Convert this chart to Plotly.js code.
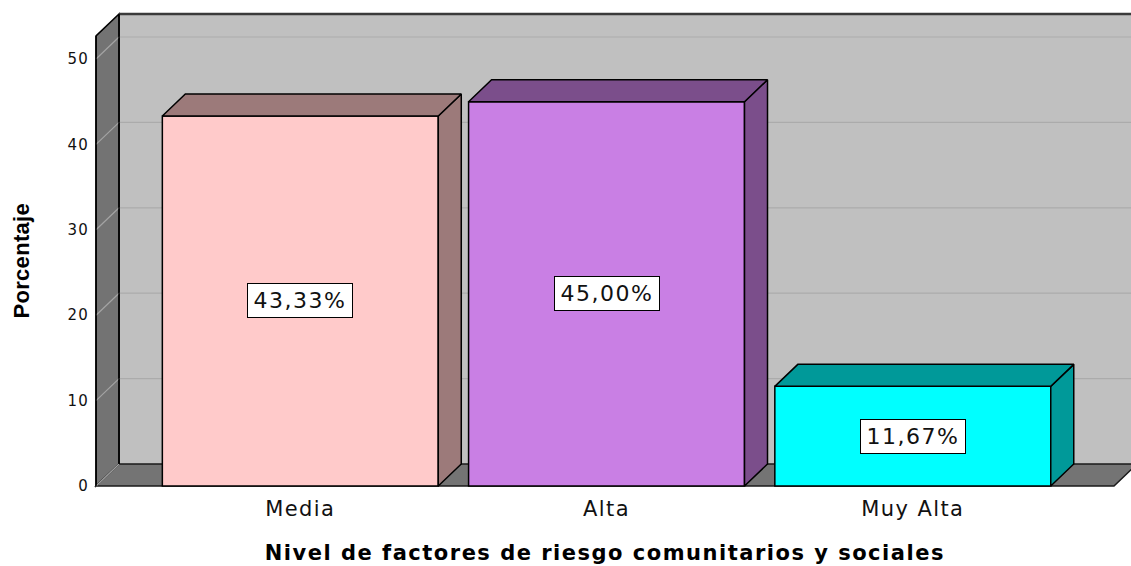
<!DOCTYPE html>
<html>
<head>
<meta charset="utf-8">
<script src="https://cdn.plot.ly/plotly-3.0.1.min.js"></script>
<style>
html,body{margin:0;padding:0;background:#fff;}
#chart{width:1131px;height:566px;}
#chart g.xtick text{letter-spacing:1.4px;}
#chart g.ytick text{letter-spacing:1.2px;}
#chart g.annotation text{letter-spacing:1.5px;}
#chart g.annotation[data-index="3"] text{letter-spacing:1.5px;}
#chart g.annotation[data-index="4"] text{letter-spacing:0.3px;}
</style>
</head>
<body>
<div id="chart"></div>
<script>
// ---- data ----
const categories = ["Media", "Alta", "Muy Alta"];
const percentages = [43.33, 45.00, 11.67];
const frontColors = ["#FFCACA", "#C97FE4", "#00FFFF"];
const sideColors = ["#9C7A7A", "#7B4E8B", "#009999"];
const yTickValues = [0, 10, 20, 30, 40, 50];
const xTitle = "Nivel de factores de riesgo comunitarios y sociales";
const yTitle = "Porcentaje";

// ---- 3D geometry (in axis units) ----
const barWidth = 0.901;
const dx = 0.0751;     // depth offset along x
const dy = 2.576;      // depth offset along y
const wallX = -0.667;  // front-left corner of the box
const floorRight = 2.657;
const wallTop = 52.7;
const farRight = 3.2;

const xIdx = categories.map((c, i) => i);
const fmt = v => v.toFixed(2).replace('.', ',') + '%';

const shapes = [];
// back wall
shapes.push({type:'path', xref:'x', yref:'y', layer:'below',
  path:`M${wallX+dx},${dy} L${farRight},${dy} L${farRight},${wallTop+dy} L${wallX+dx},${wallTop+dy} Z`,
  fillcolor:'#C0C0C0', line:{width:0}});
// left wall
shapes.push({type:'path', xref:'x', yref:'y', layer:'below',
  path:`M${wallX},0 L${wallX},${wallTop} L${wallX+dx},${wallTop+dy} L${wallX+dx},${dy} Z`,
  fillcolor:'#737373', line:{color:'#000', width:1.5}});
// floor
shapes.push({type:'path', xref:'x', yref:'y', layer:'below',
  path:`M${wallX},0 L${floorRight},0 L${floorRight+dx},${dy} L${wallX+dx},${dy} Z`,
  fillcolor:'#747474', line:{color:'#1a1a1a', width:1.5}});
// gridlines: back wall horizontals and left-wall diagonals
yTickValues.forEach(v => {
  if (v > 0) {
    shapes.push({type:'line', xref:'x', yref:'y', layer:'below',
      x0:wallX+dx, x1:farRight, y0:v+dy, y1:v+dy, line:{color:'#ABABAB', width:1.2}});
  }
  shapes.push({type:'line', xref:'x', yref:'y', layer:'below',
    x0:wallX, x1:wallX+dx, y0:v, y1:v+dy, line:{color:'#A4A4A4', width:1.2}});
});
// back wall top edge & inner vertical edge
shapes.push({type:'line', xref:'x', yref:'y', layer:'below',
  x0:wallX+dx, x1:farRight, y0:wallTop+dy, y1:wallTop+dy, line:{color:'#3a3a3a', width:2.5}});
shapes.push({type:'line', xref:'x', yref:'y', layer:'below',
  x0:wallX+dx, x1:wallX+dx, y0:dy, y1:wallTop+dy, line:{color:'#000', width:1.5}});
// left wall front edge
shapes.push({type:'line', xref:'x', yref:'y', layer:'below',
  x0:wallX, x1:wallX, y0:0, y1:wallTop, line:{color:'#000', width:1.5}});

const traces = [];
// front faces
traces.push({type:'bar', x:xIdx, y:percentages, width:barWidth,
  marker:{color:frontColors, line:{color:'#000', width:1.5}},
  hoverinfo:'skip', showlegend:false});
// side + top faces
percentages.forEach((v, i) => {
  const l = i - barWidth/2, r = i + barWidth/2;
  traces.push({type:'scatter', mode:'lines', fill:'toself', fillcolor:sideColors[i],
    x:[r, r, r+dx, r+dx, r], y:[0, v, v+dy, dy, 0],
    line:{color:'#000', width:1.5}, hoverinfo:'skip', showlegend:false});
  traces.push({type:'scatter', mode:'lines', fill:'toself', fillcolor:sideColors[i],
    x:[l, r, r+dx, l+dx, l], y:[v, v, v+dy, v+dy, v],
    line:{color:'#000', width:1.5}, hoverinfo:'skip', showlegend:false});
});

const annotations = percentages.map((v, i) => ({
  x:i, y:v/2, xref:'x', yref:'y', text:fmt(v), showarrow:false,
  width:100, height:29, align:'center', valign:'middle',
  bgcolor:'#fff', bordercolor:'#000', borderwidth:1, borderpad:2,
  font:{family:'DejaVu Sans', size:22, color:'#111'}
}));
// axis titles
annotations.push({x:(wallX + floorRight)/2, xref:'x', y:-0.131, yref:'paper',
  text:xTitle, showarrow:false, xanchor:'center', yanchor:'middle',
  font:{family:'DejaVu Sans', size:21, weight:'bold', color:'#000'}});
annotations.push({x:-0.0653, xref:'paper', y:wallTop/2, yref:'y',
  text:yTitle, showarrow:false, textangle:-90, xanchor:'center', yanchor:'middle',
  font:{family:'Liberation Sans', size:22, weight:'bold', color:'#000'}});

const layout = {
  width:1131, height:566,
  margin:{l:90, r:0, t:10, b:76},
  paper_bgcolor:'#fff', plot_bgcolor:'#fff',
  showlegend:false,
  xaxis:{range:[-0.6867, 2.7125], tickvals:xIdx, ticktext:categories,
    showgrid:false, zeroline:false, showline:false, ticks:'', ticklabelstandoff:4,
    tickfont:{family:'DejaVu Sans', size:21, color:'#111'}},
  yaxis:{range:[-0.468, 55.738], tickvals:yTickValues,
    showgrid:false, zeroline:false, showline:false, ticks:'',
    tickfont:{family:'DejaVu Sans', size:15, color:'#111'}},
  shapes:shapes,
  annotations:annotations
};

Plotly.newPlot('chart', traces, layout, {displayModeBar:false, staticPlot:true});
</script>
</body>
</html>
